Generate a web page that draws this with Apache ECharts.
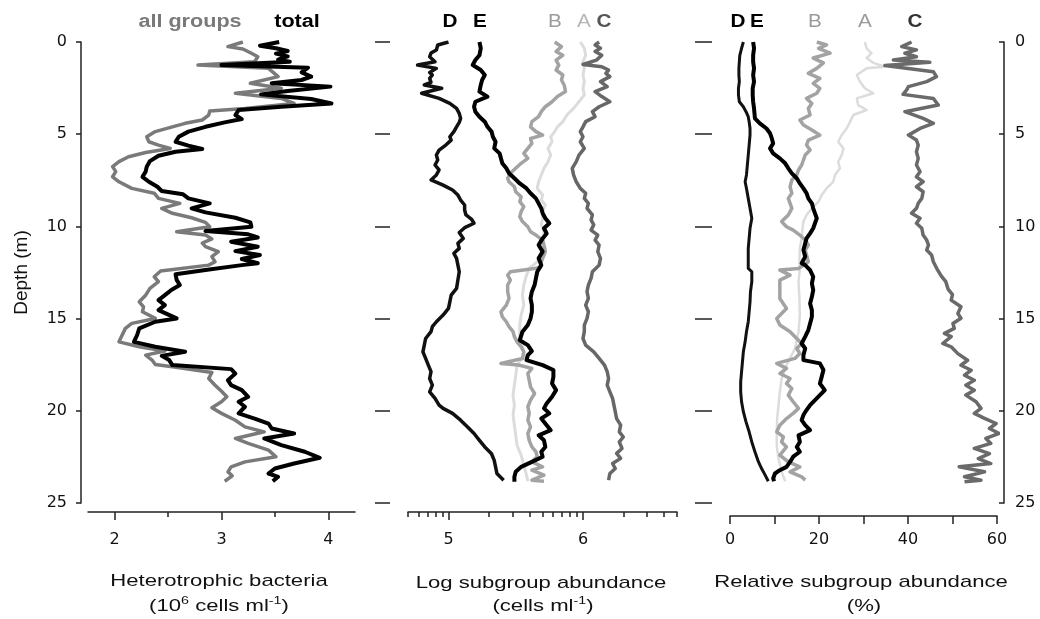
<!DOCTYPE html>
<html>
<head>
<meta charset="utf-8">
<script src="https://cdn.jsdelivr.net/npm/echarts@6/dist/echarts.min.js"></script>
<style>html,body{margin:0;padding:0;background:#fff;}#c{width:1040px;height:619px;}</style>
</head>
<body>
<div id="c"></div>
<script>
// ---------------- DATA: [depth (m), value] ----------------
// Panel 1: heterotrophic bacteria (10^6 cells/ml)
const totalBacteria = [[0,3.54],[0.2,3.36],[0.34,3.51],[0.49,3.62],[0.63,3.51],[0.78,3.62],[0.96,3.53],[1.07,3.64],[1.25,3.00],[1.39,3.81],[1.65,3.75],[1.88,3.84],[2.06,3.75],[2.24,3.47],[2.42,4.02],[2.66,3.62],[2.84,3.37],[3.09,3.84],[3.33,4.03],[3.51,3.56],[3.69,3.16],[3.96,3.13],[4.18,3.19],[4.36,3.03],[4.6,2.85],[4.86,2.69],[5.14,2.60],[5.41,2.57],[5.62,2.69],[5.8,2.82],[5.95,2.57],[6.17,2.41],[6.46,2.33],[6.76,2.30],[7.03,2.29],[7.31,2.26],[7.58,2.32],[7.85,2.40],[8.08,2.44],[8.26,2.64],[8.48,2.69],[8.75,2.89],[9.02,2.72],[9.24,2.85],[9.53,3.13],[9.78,3.27],[10.02,3.28],[10.25,2.85],[10.43,3.25],[10.6,3.34],[10.83,3.09],[11.1,3.34],[11.34,3.13],[11.55,3.36],[11.77,3.19],[12.0,3.34],[12.1,3.19],[12.37,2.85],[12.6,2.57],[12.9,2.58],[13.18,2.61],[13.45,2.53],[13.73,2.47],[14.0,2.41],[14.27,2.47],[14.54,2.41],[14.99,2.58],[15.17,2.38],[15.53,2.23],[15.89,2.21],[16.26,2.18],[16.53,2.38],[16.8,2.66],[17.02,2.44],[17.25,2.51],[17.52,2.54],[17.74,3.09],[17.98,3.13],[18.34,3.06],[18.61,3.09],[18.88,3.19],[19.24,3.25],[19.51,3.16],[19.78,3.22],[20.14,3.16],[20.42,3.31],[20.69,3.44],[20.96,3.47],[21.23,3.68],[21.5,3.40],[21.86,3.56],[22.22,3.78],[22.55,3.92],[22.86,3.68],[23.13,3.50],[23.4,3.44],[23.58,3.53],[23.82,3.48]];
const allGroups = [[0,3.20],[0.25,3.06],[0.38,3.20],[0.61,3.28],[0.8,3.34],[1.07,3.31],[1.25,2.78],[1.43,3.44],[1.88,3.53],[2.24,3.27],[2.51,3.56],[2.78,3.13],[3.06,3.56],[3.33,3.68],[3.6,3.22],[3.74,2.89],[3.96,2.88],[4.23,2.82],[4.41,2.66],[4.6,2.54],[4.86,2.38],[5.14,2.30],[5.41,2.32],[5.59,2.41],[5.77,2.52],[5.99,2.29],[6.22,2.13],[6.49,2.04],[6.76,1.98],[7.03,2.01],[7.31,1.98],[7.58,2.04],[7.94,2.16],[8.2,2.37],[8.48,2.41],[8.75,2.61],[9.02,2.44],[9.29,2.54],[9.53,2.72],[9.78,2.85],[10.02,2.89],[10.29,2.58],[10.47,2.85],[10.68,2.91],[10.91,2.82],[11.1,2.85],[11.37,2.97],[11.64,2.91],[11.92,2.94],[12.1,2.88],[12.42,2.43],[12.73,2.37],[13.0,2.41],[13.36,2.33],[13.73,2.29],[14.09,2.23],[14.36,2.27],[14.63,2.26],[14.99,2.38],[15.26,2.16],[15.53,2.10],[15.89,2.07],[16.26,2.04],[16.53,2.23],[16.76,2.47],[16.98,2.29],[17.25,2.35],[17.49,2.38],[17.61,2.54],[17.92,2.91],[18.25,2.88],[18.61,2.94],[18.94,3.00],[19.24,3.05],[19.51,3.00],[19.84,2.91],[20.14,3.00],[20.51,3.13],[20.87,3.22],[21.14,3.40],[21.5,3.13],[21.77,3.25],[22.13,3.44],[22.49,3.51],[22.77,3.22],[23.04,3.09],[23.31,3.06],[23.53,3.10],[23.82,3.03]];

// Panel 2: log10 subgroup abundance (cells/ml)
const logD = [[0,5.0],[0.16,4.92],[0.43,4.91],[0.6,4.87],[0.8,4.86],[1.07,4.90],[1.25,4.77],[1.43,4.91],[1.65,4.86],[1.79,4.88],[1.97,4.86],[2.19,4.87],[2.33,4.82],[2.51,4.95],[2.78,4.80],[3.06,4.93],[3.33,5.01],[3.6,5.06],[3.87,5.08],[4.14,5.09],[4.36,5.08],[4.6,5.06],[4.86,5.04],[5.14,5.01],[5.32,5.02],[5.59,4.98],[5.86,4.93],[6.13,4.91],[6.4,4.92],[6.67,4.90],[6.94,4.93],[7.21,4.91],[7.48,4.87],[7.76,4.96],[8.03,5.03],[8.3,5.07],[8.57,5.09],[8.84,5.12],[9.11,5.12],[9.38,5.13],[9.6,5.17],[9.83,5.19],[10.07,5.12],[10.33,5.08],[10.65,5.11],[10.92,5.07],[11.19,5.08],[11.46,5.04],[11.73,5.06],[12.1,5.07],[12.46,5.08],[12.91,5.07],[13.36,5.06],[13.73,5.02],[14.09,5.01],[14.45,5.0],[14.81,4.96],[15.17,4.91],[15.44,4.88],[15.71,4.87],[16.08,4.83],[16.44,4.82],[16.8,4.81],[17.16,4.83],[17.52,4.85],[17.88,4.87],[18.25,4.86],[18.61,4.88],[18.97,4.86],[19.33,4.90],[19.69,4.93],[19.87,4.96],[20.14,5.03],[20.51,5.09],[20.87,5.14],[21.23,5.19],[21.6,5.23],[21.96,5.27],[22.33,5.32],[22.69,5.34],[23.04,5.35],[23.4,5.36],[23.76,5.41]];
const logE = [[0,5.23],[0.34,5.24],[0.72,5.23],[0.98,5.20],[1.25,5.18],[1.52,5.24],[1.79,5.27],[2.06,5.25],[2.33,5.24],[2.69,5.23],[2.96,5.29],[3.24,5.20],[3.51,5.19],[3.78,5.20],[4.05,5.23],[4.32,5.27],[4.6,5.29],[4.86,5.32],[5.14,5.33],[5.41,5.35],[5.77,5.34],[6.04,5.38],[6.31,5.39],[6.58,5.40],[6.85,5.43],[7.12,5.45],[7.39,5.49],[7.67,5.53],[7.94,5.58],[8.2,5.61],[8.48,5.65],[8.75,5.67],[9.02,5.69],[9.29,5.70],[9.56,5.72],[9.83,5.75],[10.1,5.71],[10.38,5.73],[10.65,5.70],[11.01,5.67],[11.37,5.70],[11.73,5.67],[12.1,5.69],[12.46,5.66],[12.82,5.65],[13.18,5.64],[13.54,5.62],[13.9,5.61],[14.27,5.62],[14.63,5.62],[14.99,5.61],[15.35,5.59],[15.71,5.55],[16.17,5.53],[16.44,5.59],[16.76,5.62],[16.98,5.59],[17.25,5.58],[17.52,5.70],[17.79,5.78],[18.16,5.78],[18.52,5.77],[18.88,5.80],[19.24,5.77],[19.6,5.73],[19.87,5.71],[20.14,5.75],[20.42,5.69],[20.78,5.73],[21.05,5.76],[21.33,5.67],[21.6,5.71],[21.96,5.72],[22.22,5.69],[22.49,5.70],[22.77,5.62],[23.04,5.54],[23.31,5.50],[23.58,5.49],[23.85,5.49]];
const logB = [[0,5.79],[0.25,5.84],[0.52,5.80],[0.72,5.85],[0.98,5.80],[1.25,5.82],[1.52,5.80],[1.79,5.85],[2.06,5.84],[2.33,5.86],[2.69,5.87],[2.96,5.81],[3.24,5.77],[3.51,5.72],[3.78,5.69],[4.05,5.67],[4.32,5.62],[4.6,5.61],[4.86,5.65],[5.05,5.70],[5.23,5.61],[5.5,5.62],[5.77,5.59],[6.04,5.56],[6.31,5.59],[6.58,5.54],[6.85,5.50],[7.12,5.46],[7.39,5.44],[7.58,5.45],[7.85,5.49],[8.12,5.50],[8.39,5.54],[8.66,5.53],[8.93,5.56],[9.2,5.54],[9.47,5.53],[9.74,5.55],[10.02,5.59],[10.29,5.61],[10.47,5.65],[10.74,5.70],[11.01,5.71],[11.37,5.72],[11.92,5.69],[12.22,5.68],[12.28,5.64],[12.46,5.46],[12.64,5.44],[12.91,5.46],[13.18,5.44],[13.54,5.44],[13.9,5.45],[14.27,5.43],[14.63,5.39],[14.9,5.40],[15.17,5.43],[15.44,5.45],[15.71,5.48],[15.98,5.49],[16.26,5.51],[16.53,5.54],[16.8,5.56],[17.16,5.55],[17.43,5.39],[17.52,5.52],[17.7,5.62],[17.98,5.59],[18.34,5.60],[18.7,5.61],[19.06,5.64],[19.42,5.61],[19.78,5.59],[20.14,5.60],[20.51,5.59],[20.87,5.61],[21.23,5.59],[21.6,5.60],[21.96,5.62],[22.22,5.65],[22.49,5.66],[22.77,5.62],[23.04,5.70],[23.22,5.62],[23.49,5.71],[23.76,5.62],[23.82,5.71]];
const logA = [[0,5.98],[0.34,6.01],[0.72,6.02],[1.07,6.00],[1.43,6.01],[1.79,6.00],[2.15,6.01],[2.51,6.00],[2.87,6.01],[3.24,5.97],[3.6,5.93],[3.96,5.88],[4.32,5.85],[4.6,5.81],[4.86,5.79],[5.14,5.76],[5.41,5.77],[5.77,5.74],[6.13,5.76],[6.49,5.74],[6.85,5.71],[7.21,5.69],[7.58,5.67],[7.94,5.66],[8.3,5.70],[8.57,5.69],[8.84,5.72],[9.2,5.70],[9.56,5.70],[9.92,5.69],[10.29,5.71],[10.65,5.70],[11.19,5.70],[11.73,5.69],[12.28,5.60],[12.64,5.58],[13.18,5.56],[13.73,5.55],[14.27,5.56],[14.81,5.54],[15.35,5.53],[15.89,5.53],[16.44,5.55],[16.98,5.56],[17.52,5.51],[18.07,5.50],[18.61,5.49],[19.15,5.48],[19.69,5.49],[20.23,5.48],[20.78,5.49],[21.33,5.50],[21.87,5.51],[22.4,5.54],[22.95,5.56],[23.49,5.58],[23.82,5.59]];
const logC = [[0,6.12],[0.16,6.09],[0.34,6.13],[0.52,6.09],[0.72,6.14],[0.98,6.10],[1.22,6.00],[1.34,6.14],[1.52,6.19],[1.7,6.17],[1.88,6.20],[2.15,6.13],[2.42,6.18],[2.69,6.09],[2.96,6.14],[3.24,6.20],[3.51,6.12],[3.78,6.07],[4.05,6.09],[4.32,6.02],[4.6,6.00],[4.86,5.98],[5.14,6.00],[5.41,5.98],[5.77,6.01],[6.13,5.97],[6.49,5.95],[6.85,5.92],[7.21,5.93],[7.58,5.95],[7.94,5.98],[8.2,6.02],[8.48,6.01],[8.75,6.04],[9.02,6.03],[9.38,6.07],[9.65,6.06],[9.92,6.08],[10.2,6.06],[10.47,6.11],[10.74,6.09],[11.01,6.12],[11.37,6.11],[11.73,6.13],[12.1,6.12],[12.46,6.07],[12.82,6.06],[13.18,6.04],[13.54,6.03],[13.9,6.04],[14.27,6.02],[14.63,6.04],[14.99,6.03],[15.35,6.01],[15.71,6.01],[16.08,6.00],[16.44,6.02],[16.8,6.08],[17.16,6.12],[17.52,6.16],[17.88,6.18],[18.25,6.19],[18.61,6.18],[18.97,6.20],[19.33,6.22],[19.69,6.23],[20.05,6.24],[20.42,6.25],[20.78,6.28],[21.14,6.27],[21.42,6.30],[21.69,6.27],[22.04,6.29],[22.31,6.25],[22.58,6.28],[22.86,6.22],[23.13,6.24],[23.4,6.20],[23.76,6.19]];

// Panel 3: relative subgroup abundance (%)
const relD = [[0,3.0],[0.34,2.6],[0.72,2.2],[1.07,2.1],[1.43,2.0],[1.79,2.0],[2.15,2.1],[2.51,1.9],[2.87,1.9],[3.24,2.1],[3.51,3.0],[3.78,3.6],[4.05,4.1],[4.32,4.3],[4.69,4.5],[5.05,4.5],[5.59,4.3],[6.13,4.1],[6.67,3.9],[7.21,3.7],[7.58,3.4],[7.94,3.7],[8.48,4.1],[9.02,4.5],[9.56,4.9],[10.1,4.5],[10.65,4.3],[11.19,4.1],[11.73,4.1],[12.28,4.1],[12.46,4.9],[13.0,4.9],[13.54,4.6],[14.09,4.5],[14.63,4.3],[15.17,4.1],[15.71,3.7],[16.26,3.4],[16.8,3.0],[17.34,2.8],[17.88,2.6],[18.43,2.4],[18.97,2.4],[19.51,2.6],[20.05,3.0],[20.6,3.6],[21.14,4.3],[21.69,4.9],[22.22,5.6],[22.77,6.4],[23.13,7.1],[23.49,7.9],[23.82,8.6]];
const relE = [[0,5.2],[0.34,5.4],[0.72,5.2],[1.07,5.2],[1.43,5.4],[1.79,5.2],[2.15,5.4],[2.51,5.1],[2.87,5.1],[3.24,5.2],[3.6,5.4],[4.14,5.6],[4.41,6.7],[4.69,8.2],[4.95,9.0],[5.23,9.4],[5.5,9.7],[5.77,9.0],[6.04,9.7],[6.31,11.2],[6.58,12.4],[6.85,13.1],[7.12,13.9],[7.39,15.0],[7.67,15.7],[7.94,16.5],[8.2,17.2],[8.48,17.6],[8.75,18.4],[9.02,18.7],[9.29,19.1],[9.56,19.5],[9.83,19.1],[10.1,18.7],[10.38,18.0],[10.65,17.2],[10.92,16.9],[11.28,16.5],[11.64,16.9],[12.0,16.1],[12.1,16.9],[12.37,18.0],[12.73,18.7],[13.09,18.4],[13.45,18.7],[13.82,18.4],[14.18,18.0],[14.54,18.4],[14.9,18.4],[15.26,18.0],[15.62,17.6],[15.98,16.9],[16.35,16.1],[16.62,16.9],[16.98,16.5],[17.25,16.5],[17.43,20.2],[17.79,21.0],[18.16,20.6],[18.52,20.2],[18.88,21.3],[19.15,20.2],[19.42,19.1],[19.69,18.0],[19.96,17.2],[20.23,16.5],[20.51,16.1],[20.78,16.9],[21.05,18.0],[21.33,15.4],[21.69,15.7],[21.96,15.0],[22.22,15.7],[22.49,14.2],[22.77,13.5],[23.04,12.7],[23.22,11.2],[23.4,10.1],[23.67,9.7],[23.82,9.9]];
const relB = [[0,19.5],[0.16,21.7],[0.34,19.9],[0.6,22.5],[0.87,18.7],[1.13,21.0],[1.43,19.5],[1.7,17.6],[1.97,20.2],[2.24,18.7],[2.51,20.2],[2.78,19.5],[3.06,17.2],[3.33,18.4],[3.6,17.6],[3.96,18.0],[4.23,15.7],[4.5,16.5],[4.77,18.4],[5.05,20.2],[5.32,17.6],[5.59,17.2],[5.86,18.0],[6.13,16.9],[6.4,16.5],[6.67,16.1],[6.94,15.4],[7.21,15.0],[7.48,13.9],[7.85,13.5],[8.2,13.9],[8.48,13.1],[8.75,13.5],[9.02,13.9],[9.38,13.1],[9.74,11.6],[10.02,12.7],[10.2,14.2],[10.47,15.7],[10.74,16.9],[11.01,17.6],[11.28,16.9],[11.55,17.2],[11.92,17.6],[12.28,15.4],[12.37,11.2],[12.64,13.5],[12.91,11.2],[13.36,11.2],[13.91,11.2],[14.45,12.7],[14.99,10.5],[15.35,11.2],[15.71,13.5],[15.98,14.6],[16.35,16.1],[16.62,15.0],[16.89,15.7],[17.16,14.6],[17.43,10.5],[17.7,12.7],[17.98,11.2],[18.25,13.5],[18.52,12.7],[18.79,13.9],[19.15,13.1],[19.51,14.2],[19.87,15.4],[20.14,14.2],[20.42,12.7],[20.78,11.2],[21.14,10.5],[21.42,12.0],[21.69,11.6],[21.96,12.7],[22.4,11.2],[22.77,13.1],[23.04,15.7],[23.31,13.5],[23.58,16.1],[23.76,16.9]];
const relA = [[0,30.3],[0.34,30.7],[0.6,31.8],[0.87,30.7],[1.13,32.2],[1.34,34.8],[1.43,30.7],[1.79,28.5],[2.15,29.2],[2.51,30.3],[2.78,32.2],[3.06,28.5],[3.42,28.8],[3.69,30.7],[3.96,27.7],[4.32,27.0],[4.69,26.2],[5.05,25.1],[5.41,24.3],[5.77,25.5],[6.13,25.1],[6.49,24.3],[6.85,24.7],[7.21,23.6],[7.58,23.2],[7.94,21.7],[8.3,20.6],[8.66,19.9],[9.02,18.4],[9.38,17.2],[9.74,16.5],[10.1,16.3],[10.65,16.1],[11.19,15.7],[11.92,15.6],[12.28,15.7],[13.0,15.4],[13.91,15.6],[14.81,15.7],[15.71,15.4],[16.62,14.6],[17.52,12.7],[18.25,11.6],[18.97,11.2],[19.69,10.9],[20.42,10.6],[21.14,10.5],[21.87,10.5],[22.59,10.9],[23.31,11.6],[23.82,12.4]];
const relC = [[0,40.8],[0.25,38.6],[0.43,41.9],[0.61,39.3],[0.8,41.9],[0.98,36.7],[1.1,44.9],[1.28,34.8],[1.61,45.7],[1.88,46.4],[2.15,44.2],[2.42,40.1],[2.6,39.7],[2.84,38.9],[3.06,45.7],[3.42,46.8],[3.78,39.3],[4.14,43.4],[4.41,45.7],[4.69,42.7],[5.05,40.1],[5.32,41.9],[5.59,42.3],[5.95,41.9],[6.31,42.3],[6.67,41.9],[7.03,42.7],[7.31,41.9],[7.58,43.4],[7.85,41.9],[8.12,43.4],[8.48,43.1],[8.75,42.3],[9.02,41.9],[9.29,40.8],[9.56,42.7],[9.83,41.9],[10.1,43.1],[10.47,43.4],[10.74,44.2],[11.01,44.6],[11.28,44.2],[11.55,45.3],[11.92,45.7],[12.3,46.5],[12.7,47.5],[13.0,48.5],[13.4,49.0],[13.7,50.0],[14.0,49.7],[14.36,51.9],[14.72,51.2],[14.98,51.9],[15.27,50.1],[15.53,50.4],[15.8,48.2],[15.98,49.7],[16.35,47.8],[16.53,49.7],[16.9,51.2],[17.26,53.4],[17.53,51.9],[17.8,54.2],[18.07,52.7],[18.34,54.9],[18.61,53.0],[18.88,54.9],[19.15,53.0],[19.51,55.3],[19.87,56.4],[20.14,54.9],[20.41,57.2],[20.69,59.8],[20.96,58.3],[21.23,60.5],[21.5,57.5],[21.77,58.6],[22.04,54.9],[22.32,58.3],[22.59,55.8],[22.86,58.6],[23.04,51.5],[23.31,57.2],[23.58,52.7],[23.76,56.4],[23.85,52.7]];

// Axis ticks / labels
const p1MajorTicks = [2, 3, 4];
const p1MinorTicks = [2.5, 3.5];
const p2MajorTicks = [5, 6];          // log10 cells/ml
const p2MinorCells = [50000, 60000, 70000, 80000, 90000, 200000, 300000, 400000, 500000, 600000, 700000, 800000, 900000, 2000000, 3000000, 4000000, 5000000];
const p3Ticks = [0, 10, 20, 30, 40, 50, 60];
const p3Labels = [0, 20, 40, 60];

// ---------------- CHART ----------------
const toXY = arr => arr.map(p => [p[1], p[0]]);
const AX = '#222';
const tickFont = {fontFamily: 'DejaVu Sans', fontSize: 16, color: '#111'};
const p2Min = Math.log10(50000), p2Max = Math.log10(5000000);

function xMajor(grid, min, max, ticks, labels, offset, margin) {
  return {gridIndex: grid, type: 'value', position: 'bottom', min, max, offset,
    axisLine: {show: true, onZero: false, lineStyle: {color: AX, width: 1.5}},
    axisTick: {show: true, customValues: ticks, length: 8, lineStyle: {color: AX, width: 1.5}},
    axisLabel: Object.assign({show: true, customValues: labels, margin: margin,
      formatter: v => String(Math.round(v))}, tickFont),
    splitLine: {show: false}};
}
function xMinor(grid, min, max, ticks, offset, len) {
  return {gridIndex: grid, type: 'value', position: 'bottom', min, max, offset,
    axisLine: {show: false, onZero: false},
    axisTick: {show: true, customValues: ticks, length: len, lineStyle: {color: AX, width: 1.5}},
    axisLabel: {show: false}, splitLine: {show: false}};
}
function yDepth(grid, opts) {
  return Object.assign({gridIndex: grid, type: 'value', min: 0, max: 25, interval: 5, inverse: true,
    splitLine: {show: false}}, opts);
}
function line(name, data, xi, yi, color, width, z) {
  return {name, type: 'line', xAxisIndex: xi, yAxisIndex: yi, data: toXY(data),
    showSymbol: false, symbol: 'none', animation: false, z: z,
    lineStyle: {color, width, join: 'round'}};
}

function gtext(x, y, text, opts) {
  return {type: 'text', x, y, scaleX: opts.scaleX || 1,
    style: {text, x: 0, y: 0, fill: opts.fill || '#000', align: 'center', verticalAlign: 'middle',
      font: opts.font, rich: opts.rich}};
}
const hdr = 'bold 18px "Liberation Sans", Arial, sans-serif';
const hdrR = '18px "Liberation Sans", Arial, sans-serif';
const ttl = '17px "Liberation Sans", Arial, sans-serif';
const supRich = {
  a: {font: ttl, fill: '#111', verticalAlign: 'bottom'},
  s: {font: '11px "Liberation Sans", Arial, sans-serif', fill: '#111', verticalAlign: 'top', padding: [0, 0, 8, 0]}
};

const chart = echarts.init(document.getElementById('c'), null, {renderer: 'canvas'});
chart.setOption({
  backgroundColor: '#fff',
  animation: false,
  grid: [
    {left: 88, top: 42, width: 267, height: 461},
    {left: 408, top: 42, width: 269, height: 461},
    {left: 730, top: 42, width: 267, height: 461}
  ],
  xAxis: [
    xMajor(0, 1.75, 4.25, p1MajorTicks, p1MajorTicks, 9, 20),
    xMinor(0, 1.75, 4.25, p1MinorTicks, 9, 5),
    xMajor(1, p2Min, p2Max, p2MajorTicks, p2MajorTicks, 9, 20),
    xMinor(1, p2Min, p2Max, p2MinorCells.map(v => Math.log10(v)), 9, 5),
    xMajor(2, 0, 60, p3Ticks, p3Labels, 13, 16)
  ],
  yAxis: [
    yDepth(0, {position: 'left', offset: 7,
      axisLine: {show: true, onZero: false, lineStyle: {color: AX, width: 1.5}},
      axisTick: {show: true, length: 5, lineStyle: {color: AX, width: 1.5}},
      axisLabel: Object.assign({margin: 14}, tickFont),
      name: 'Depth (m)', nameLocation: 'middle', nameGap: 50, nameRotate: 90,
      nameTextStyle: {fontFamily: 'Liberation Sans', fontSize: 19, color: '#111'}}),
    yDepth(1, {position: 'left', offset: 18,
      axisLine: {show: false, onZero: false},
      axisTick: {show: true, length: 15, lineStyle: {color: AX, width: 1.5}},
      axisLabel: {show: false}}),
    yDepth(2, {position: 'left', offset: 18,
      axisLine: {show: false, onZero: false},
      axisTick: {show: true, length: 17, lineStyle: {color: AX, width: 1.5}},
      axisLabel: {show: false}}),
    yDepth(2, {position: 'right', offset: 7,
      axisLine: {show: true, onZero: false, lineStyle: {color: AX, width: 1.5}},
      axisTick: {show: true, inside: true, length: 5, lineStyle: {color: AX, width: 1.5}},
      axisLabel: Object.assign({margin: 11}, tickFont)})
  ],
  series: [
    line('all groups', allGroups, 0, 0, '#7a7a7a', 3.5, 2),
    line('total', totalBacteria, 0, 0, '#000', 4, 3),
    line('A', logA, 2, 1, '#dcdcdc', 3, 2),
    line('B', logB, 2, 1, '#a3a3a3', 3.5, 3),
    line('C', logC, 2, 1, '#676767', 3.5, 3),
    line('D', logD, 2, 1, '#111', 3.5, 4),
    line('E', logE, 2, 1, '#000', 4, 5),
    line('A3', relA, 4, 3, '#dcdcdc', 2.5, 2),
    line('B3', relB, 4, 3, '#a3a3a3', 3.5, 3),
    line('C3', relC, 4, 3, '#6a6a6a', 3.5, 3),
    line('D3', relD, 4, 3, '#111', 3, 4),
    line('E3', relE, 4, 3, '#000', 4, 5)
  ],
  graphic: [
    gtext(190, 22, 'all groups', {font: hdr, fill: '#7a7a7a', scaleX: 1.2}),
    gtext(297, 22, 'total', {font: hdr, fill: '#000', scaleX: 1.2}),
    gtext(450, 22, 'D', {font: hdr, fill: '#000', scaleX: 1.15}),
    gtext(480, 22, 'E', {font: hdr, fill: '#000', scaleX: 1.15}),
    gtext(555, 22, 'B', {font: hdrR, fill: '#9a9a9a', scaleX: 1.15}),
    gtext(584, 22, 'A', {font: hdrR, fill: '#b5b5b5', scaleX: 1.15}),
    gtext(604, 22, 'C', {font: hdr, fill: '#555', scaleX: 1.15}),
    gtext(738, 22, 'D', {font: hdr, fill: '#000', scaleX: 1.15}),
    gtext(757, 22, 'E', {font: hdr, fill: '#000', scaleX: 1.15}),
    gtext(815, 22, 'B', {font: hdrR, fill: '#9a9a9a', scaleX: 1.15}),
    gtext(865, 22, 'A', {font: hdrR, fill: '#9a9a9a', scaleX: 1.15}),
    gtext(915, 22, 'C', {font: hdr, fill: '#333', scaleX: 1.15}),
    gtext(219, 581, 'Heterotrophic bacteria', {font: ttl, fill: '#111', scaleX: 1.3}),
    gtext(219, 605, '{a|(10}{s|6}{a| cells ml}{s|-1}{a|)}', {font: ttl, fill: '#111', scaleX: 1.3, rich: supRich}),
    gtext(541, 583, 'Log subgroup abundance', {font: ttl, fill: '#111', scaleX: 1.3}),
    gtext(543, 605, '{a|(cells ml}{s|-1}{a|)}', {font: ttl, fill: '#111', scaleX: 1.3, rich: supRich}),
    gtext(861, 582, 'Relative subgroup abundance', {font: ttl, fill: '#111', scaleX: 1.3}),
    gtext(864, 606, '(%)', {font: ttl, fill: '#111', scaleX: 1.3})
  ]
});
</script>
</body>
</html>
